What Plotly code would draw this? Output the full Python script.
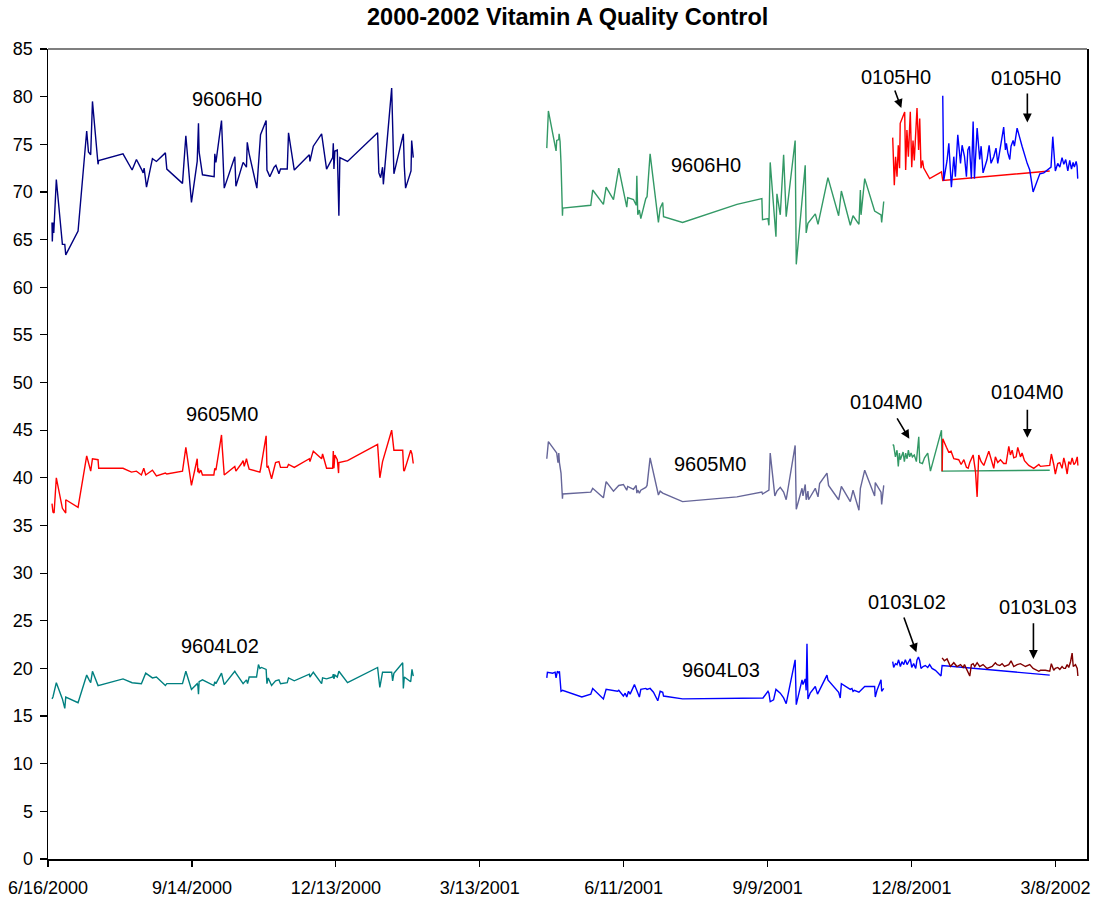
import pandas as pd
import plotly.graph_objects as go

BASE = pd.Timestamp("2000-06-16")

# ---- data: day offsets from 6/16/2000 and assay values ----
h96_a_days = [2.5,2.7,3.1,3.6,5.2,9.0,10.5,11.1,18.8,24.2,
              25.3,26.7,27.8,31.3,31.7,46.9,52.6,55.3,58.4,59.5,
              60.1,61.6,65.3,67.8,73.4,74.3,84.1,86.2,89.7,93.3,
              94.1,94.5,96.6,103.9,104.3,105.0,108.5,110.2,116.8,117.5,
              122.0,124.1,124.6,125.8,130.6,132.9,136.4,136.9,137.7,138.7,
              141.4,142.5,144.4,145.4,149.6,150.4,154.0,163.4,163.8,165.9,
              171.1,174.2,178.0,178.4,178.8,179.4,180.9,181.9,182.5,187.3,
              206.1,206.9,208.0,209.2,209.7,214.9,216.3,222.2,222.8,223.6,
              227.0,227.4,228.4]
h96_a_vals = [66.8,64.8,66.8,65.7,71.3,64.5,64.5,63.4,65.9,76.4,
              74.2,73.9,79.5,72.9,73.3,74.0,72.3,73.4,72.4,72.0,
              72.5,70.5,73.5,73.2,74.1,72.4,70.9,75.9,68.9,73.2,
              77.2,74.2,71.8,71.6,74.0,73.1,77.5,70.4,73.7,70.6,
              73.1,72.6,75.2,74.0,70.4,76.0,77.5,72.3,72.0,71.6,
              72.6,72.8,71.9,72.4,72.4,76.2,72.3,73.9,73.2,74.8,
              76.1,72.4,73.6,75.1,72.4,74.3,74.4,67.5,73.6,73.2,
              76.2,72.0,71.5,72.6,70.8,80.9,71.9,76.1,72.7,70.4,
              72.2,75.4,73.6]

m95_a_days = [2.5,3.1,3.8,5.2,9.0,10.5,11.1,11.1,18.8,24.2,25.7,26.7,27.8,31.3,31.7,46.9,52.2,55.3,58.4,59.9,
              61.1,65.3,67.8,73.4,74.3,84.1,86.2,89.7,93.3,93.7,94.1,94.5,95.6,96.6,103.7,104.3,105.0,108.5,108.9,110.2,
              116.8,117.5,121.0,122.0,122.7,124.1,124.8,125.8,132.5,132.9,136.4,136.9,137.7,139.8,142.3,144.4,145.4,149.6,150.4,154.0,
              163.4,163.8,165.9,171.1,171.7,174.2,178.0,178.4,178.8,179.4,180.9,181.7,181.9,187.3,206.1,207.5,209.2,214.9,216.3,221.8,
              222.4,222.8,226.8,227.6,228.4]
m95_a_vals = [37.3,36.4,36.3,40.0,36.8,36.4,36.3,37.7,36.9,42.3,41.3,40.7,42.0,41.9,41.0,41.0,40.6,40.7,40.3,41.0,
              40.3,40.8,40.2,40.5,40.4,40.7,43.2,39.2,42.0,40.6,41.0,40.5,40.8,40.3,40.3,41.0,40.8,44.5,43.3,40.3,
              41.2,40.7,41.5,41.8,41.2,42.0,41.5,40.9,40.6,40.9,44.4,41.1,41.2,39.9,41.6,41.7,41.1,41.1,41.4,41.1,
              42.0,41.7,42.8,42.0,42.5,41.0,41.0,42.8,41.0,42.4,41.9,40.5,41.6,41.8,43.5,40.0,41.7,45.0,42.9,42.9,
              40.8,40.7,42.9,42.5,41.5]

l02_a_days = [2.5,3.1,5.2,9.0,10.5,11.1,18.8,24.2,25.7,26.7,27.8,31.3,46.9,52.6,58.4,59.9,61.1,65.3,67.8,73.4,
              74.3,84.1,86.2,89.7,93.3,93.7,94.1,94.5,96.6,103.7,104.3,105.0,108.5,110.2,116.8,117.5,122.0,124.1,124.8,125.8,
              130.4,131.6,132.5,133.5,136.4,136.9,137.7,139.8,142.3,144.4,145.4,149.6,150.4,154.0,163.4,163.8,165.9,171.1,171.7,174.2,
              178.0,178.4,178.8,179.4,180.9,181.9,187.3,206.1,207.5,209.2,214.9,215.5,216.3,221.8,222.2,222.8,226.8,227.6,228.4]
l02_a_vals = [16.8,17.0,18.5,16.8,15.8,17.0,16.4,19.3,18.8,18.5,19.7,18.2,18.9,18.5,18.4,19.1,19.5,19.0,19.1,18.2,
              18.4,18.4,19.7,17.8,18.4,18.2,17.3,18.6,18.8,18.2,18.6,18.4,19.5,18.3,19.7,19.5,18.4,18.8,18.4,19.1,
              19.1,20.4,20.0,20.1,19.9,18.4,19.0,18.2,18.7,18.8,18.4,18.5,19.0,18.7,19.4,19.1,19.6,18.4,19.0,18.9,
              19.1,19.4,18.9,19.3,19.1,19.7,18.5,20.1,18.0,19.6,19.6,18.7,19.5,20.6,17.9,19.1,18.6,19.9,19.2]

h96_b_days = [311.9,312.3,312.9,317.7,318.1,319.4,319.6,320.2,320.8,321.7,321.9,339.4,340.6,347.3,349.0,353.6,356.9,361.9,362.5,366.1,
              367.8,368.2,368.8,369.8,370.7,373.8,374.6,376.5,381.7,382.8,384.4,384.9,396.8,430.8,446.4,446.8,450.2,450.8,451.6,455.2,
              455.8,457.9,460.0,461.6,467.2,467.9,473.5,474.1,475.2,479.8,481.5,487.7,494.4,496.1,501.7,503.4,507.1,508.0,508.4,510.7,
              516.9,520.9,521.3,522.6]
h96_b_vals = [74.6,76.1,78.5,74.3,75.4,75.5,76.1,75.3,73.0,67.5,68.3,68.6,70.2,68.7,70.5,69.2,72.5,68.4,69.4,69.2,
              68.6,71.7,67.6,68.1,67.2,69.3,69.5,74.0,66.8,68.3,68.9,67.4,66.8,68.7,69.3,67.1,67.2,66.5,73.1,65.3,
              69.8,67.6,73.9,67.4,75.4,62.4,72.8,65.7,66.7,67.7,66.6,71.5,67.5,70.1,66.5,67.5,66.6,70.2,67.6,71.4,
              68.0,67.6,66.8,69.0]

m95_b_days = [311.9,312.3,312.9,317.7,318.1,318.9,319.4,319.8,320.8,321.7,321.9,339.4,340.6,347.3,349.0,353.6,356.9,359.8,361.9,362.5,
              366.1,367.8,368.2,368.8,369.8,370.7,373.8,374.6,376.5,381.7,382.8,384.4,396.8,430.8,446.4,446.8,450.2,450.8,451.6,454.5,
              455.8,457.9,460.0,461.6,467.2,467.9,471.5,472.1,473.5,474.1,475.2,475.6,479.8,481.5,482.5,487.1,488.1,494.4,496.1,501.7,
              503.4,507.1,508.0,510.7,516.9,517.3,520.9,521.3,522.6]
m95_b_vals = [42.0,42.9,43.8,42.7,42.6,41.6,42.6,41.6,40.5,37.8,38.3,38.5,38.9,37.9,39.6,38.6,39.2,39.3,38.7,39.1,
              38.8,39.2,38.4,38.7,38.4,38.7,39.0,39.2,42.1,38.2,38.6,38.4,37.5,38.0,38.5,38.3,38.6,38.7,42.6,38.1,
              38.6,39.0,38.5,37.7,43.4,36.7,38.9,38.1,39.3,37.7,38.6,37.7,38.9,38.0,39.4,40.5,39.2,37.7,39.1,37.5,
              38.7,36.6,38.9,40.8,38.1,39.5,38.5,37.2,39.2]

l03_b_days = [311.9,312.3,315.6,317.1,317.7,318.5,319.4,319.8,320.8,321.7,333.8,339.4,340.6,347.3,349.0,353.6,356.1,356.9,359.8,360.9,
              361.9,363.0,364.0,366.7,369.8,370.7,373.8,374.6,376.5,378.6,381.3,382.8,384.4,384.9,396.8,447.1,450.2,450.8,451.6,453.7,
              455.2,457.9,460.0,461.6,467.2,467.9,471.5,472.1,473.5,474.1,474.6,475.2,476.6,479.8,481.2,487.1,487.7,494.4,495.4,496.1,
              501.7,502.7,503.4,504.2,507.1,510.7,516.9,517.3,518.4,520.9,521.3,522.6]
l03_b_vals = [19.0,19.6,19.5,19.6,19.0,19.7,19.5,19.7,17.6,17.7,17.0,17.3,17.9,16.8,17.8,17.7,17.6,17.7,17.1,17.4,
              17.0,17.6,17.3,18.3,17.0,17.8,17.9,17.8,17.9,17.5,16.6,17.6,17.5,17.1,16.8,16.9,17.6,17.4,16.5,16.7,
              17.8,17.4,16.9,16.3,20.9,16.2,18.8,18.3,18.9,17.7,22.6,16.8,17.4,18.1,17.3,19.3,18.8,17.5,16.9,18.4,
              17.8,17.9,17.6,17.7,17.5,18.1,18.1,17.0,17.7,18.8,17.6,17.9]

h05_red_days = [528.2,529.2,530.0,530.9,531.7,532.5,532.9,535.7,536.3,537.1,538.0,539.2,540.1,540.9,541.7,543.4,544.4,545.1,545.9,546.9,
                547.6,551.3,558.7,559.5,626.4]
h05_red_vals = [75.7,70.7,73.7,71.6,74.9,72.5,77.2,78.4,72.3,76.5,73.7,78.4,72.6,75.4,73.3,78.8,74.4,77.7,72.5,73.3,
                72.5,71.4,72.1,71.2,72.2]

h05_blue_days = [559.5,560.1,562.2,563.3,564.9,566.4,567.4,568.9,570.6,571.6,573.1,574.3,575.2,576.2,577.4,578.5,579.3,581.0,582.6,583.5,
                 584.7,587.2,588.5,589.7,591.4,592.8,593.9,594.9,597.6,598.7,599.3,600.2,601.4,602.2,603.5,604.3,606.0,609.1,610.2,612.3,
                 613.9,616.0,620.2,622.7,627.2,628.3,629.9,631.4,632.7,634.1,635.2,636.4,637.7,638.9,640.0,641.0,641.8,642.9,643.5,643.9]
h05_blue_vals = [80.1,71.2,73.3,75.1,70.5,73.7,71.6,76.0,73.0,74.9,73.7,71.6,74.4,74.8,71.4,77.4,71.4,76.7,73.4,74.8,
                 72.0,73.4,74.9,73.0,73.7,74.6,73.0,74.1,76.8,74.4,75.1,74.1,73.4,74.8,75.4,74.8,76.7,74.8,74.1,73.0,
                 72.3,70.0,71.9,72.0,72.6,75.8,72.2,73.0,72.6,73.6,72.9,73.4,72.2,73.3,72.4,73.1,72.6,73.2,72.7,71.4]

m04_green_days = [528.2,528.8,529.9,530.9,531.7,532.4,533.0,533.8,534.7,535.5,536.3,537.2,538.0,538.8,539.7,540.5,541.7,543.0,543.9,544.5,
                  545.1,546.8,548.1,550.1,551.8,558.7,559.1,626.4]
m04_green_vals = [43.5,43.4,42.2,42.9,41.2,42.6,41.9,42.4,42.7,41.7,42.6,42.0,42.9,42.2,42.6,42.2,42.4,41.7,42.9,44.3,
                  41.6,41.5,42.1,42.6,40.7,45.0,40.7,40.8]

m04_red_days = [559.1,559.5,561.8,563.2,564.7,566.4,569.5,571.0,572.7,574.3,575.4,576.4,578.5,580.0,581.0,582.0,583.5,585.2,588.3,589.7,
                591.4,592.4,593.9,595.6,597.6,599.1,600.8,601.8,602.9,603.9,605.4,606.4,608.1,609.1,610.6,613.3,616.4,619.6,620.6,626.4,
                627.4,628.9,629.9,631.4,632.7,634.1,635.2,636.2,637.3,638.3,639.4,640.4,641.5,642.5,643.6,644.0]
m04_red_vals = [40.7,44.1,43.2,42.7,42.8,42.0,41.9,41.4,41.9,41.1,41.0,41.6,42.4,40.6,38.0,42.4,41.7,41.3,42.8,41.9,
                41.0,42.2,41.6,41.9,41.5,41.5,43.3,42.4,42.9,42.1,42.2,43.2,42.2,42.6,41.8,41.3,41.0,41.4,41.2,41.3,
                42.5,41.4,40.4,41.5,41.6,41.0,42.1,41.4,40.4,41.7,41.4,42.1,41.4,41.6,42.2,41.3]

l02_c_days = [528.2,528.8,529.9,530.9,531.9,533.0,534.0,535.1,536.1,537.2,538.2,539.2,540.1,541.3,542.6,543.4,544.3,545.1,545.9,547.2,
              548.6,550.1,551.3,552.8,554.9,558.4,559.1,626.4]
l02_c_vals = [20.7,20.1,20.5,20.4,20.9,20.2,20.7,20.4,20.9,20.4,20.7,21.0,20.1,20.5,20.0,20.9,21.2,20.8,20.0,20.2,
              20.3,20.1,20.4,20.0,19.8,19.2,20.3,19.3]

l03_c_days = [559.1,560.5,562.2,564.3,566.4,568.4,570.6,572.2,573.1,574.7,576.4,577.4,578.5,579.5,581.0,582.6,584.7,587.2,588.9,590.4,
              592.4,593.5,595.2,596.6,598.1,600.8,602.2,603.9,606.0,608.1,611.2,613.9,616.0,619.6,620.6,623.7,626.4,627.4,628.9,629.9,
              631.4,632.7,634.1,635.2,636.2,637.3,638.3,639.4,640.4,641.1,642.5,643.6,644.0]
l03_c_vals = [21.1,20.8,21.0,20.2,20.6,20.2,20.4,20.1,20.4,19.8,19.2,20.4,20.5,20.2,20.6,20.2,20.4,20.0,20.1,20.2,
              20.6,20.4,20.3,20.5,20.2,20.4,20.8,20.2,20.4,20.5,20.2,20.4,20.0,19.7,19.8,19.8,19.7,20.5,19.8,20.0,
              20.1,19.9,20.2,20.0,20.0,20.4,20.1,20.7,21.6,20.2,20.4,20.0,19.2]

series = [
    ("9606H0", h96_a_days, h96_a_vals, "#000080"),
    ("9605M0", m95_a_days, m95_a_vals, "#FF0000"),
    ("9604L02", l02_a_days, l02_a_vals, "#008080"),
    ("9606H0 (2)", h96_b_days, h96_b_vals, "#339966"),
    ("9605M0 (2)", m95_b_days, m95_b_vals, "#666699"),
    ("9604L03", l03_b_days, l03_b_vals, "#0000FF"),
    ("0105H0 a", h05_red_days, h05_red_vals, "#FF0000"),
    ("0105H0 b", h05_blue_days, h05_blue_vals, "#0000FF"),
    ("0104M0 a", m04_green_days, m04_green_vals, "#339966"),
    ("0104M0 b", m04_red_days, m04_red_vals, "#FF0000"),
    ("0103L02", l02_c_days, l02_c_vals, "#0000FF"),
    ("0103L03", l03_c_days, l03_c_vals, "#800000"),
]

# labels: (text, day, value)
labels = [
    ("9606H0", 111.8, 79.8), ("9606H0", 411.6, 72.8),
    ("9605M0", 108.5, 46.7), ("9605M0", 414.1, 41.5),
    ("9604L02", 107.4, 22.4), ("9604L03", 420.8, 19.8),
    ("0105H0", 530.4, 82.1), ("0105H0", 611.8, 82.0),
    ("0104M0", 524.2, 48.0), ("0104M0", 612.4, 49.0),
    ("0103L02", 537.4, 27.0), ("0103L03", 619.3, 26.4),
]
# arrows: (tail day, tail value, head day, head value)
arrows = [
    (529.2, 80.8, 533.6, 78.8), (612.4, 80.5, 612.4, 77.3),
    (530.4, 46.4, 538.6, 44.1), (612.4, 47.3, 612.4, 44.2),
    (534.9, 25.5, 543.0, 21.7), (616.2, 24.9, 616.2, 21.0),
]

tick_days = [0, 90, 180, 270, 360, 450, 540, 630]
y_ticks = list(range(0, 90, 5))


def to_date(d):
    return BASE + pd.to_timedelta(d, unit="D")


fig = go.Figure()
for name, days, vals, color in series:
    assert len(days) == len(vals), name
    fig.add_trace(go.Scatter(
        x=[to_date(d) for d in days], y=vals, mode="lines", name=name,
        line=dict(color=color, width=1.4), showlegend=False,
        hoverinfo="skip"))

annotations = []
for text, d, v in labels:
    annotations.append(dict(x=to_date(d), y=v, xref="x", yref="y", text=text,
                            showarrow=False,
                            font=dict(family="Liberation Sans, Arial", size=20, color="#000")))
for td, tv, hd, hv in arrows:
    annotations.append(dict(x=to_date(hd), y=hv, ax=to_date(td), ay=tv,
                            xref="x", yref="y", axref="x", ayref="y", text="",
                            showarrow=True, arrowhead=2, arrowsize=1.1, arrowwidth=1.6,
                            arrowcolor="#000"))
annotations.append(dict(x=0.5, y=1, xref="paper", yref="paper", yanchor="bottom",
                        yshift=17, text="<b>2000-2002 Vitamin A Quality Control</b>",
                        showarrow=False,
                        font=dict(family="Liberation Sans, Arial", size=23.5, color="#000")))

fig.update_layout(
    width=1094, height=899,
    margin=dict(l=48, r=7, t=49, b=40, autoexpand=False),
    paper_bgcolor="white", plot_bgcolor="white",
    font=dict(family="Liberation Sans, Arial", size=18, color="#000"),
    annotations=annotations,
    shapes=[dict(type="line", xref="paper", yref="paper", x0=0, x1=1, y0=1, y1=1,
                 line=dict(color="#555555", width=1.5))],
    xaxis=dict(
        type="date", automargin=False,
        range=[to_date(0), to_date(649.7)],
        tickvals=[to_date(d) for d in tick_days],
        ticktext=[f"{to_date(d).month}/{to_date(d).day}/{to_date(d).year}" for d in tick_days],
        ticks="outside", ticklen=6, tickwidth=1.2, tickcolor="#000",
        ticklabeloverflow="allow", ticklabelstandoff=6,
        showline=True, linecolor="#000", linewidth=1.5,
        showgrid=False, zeroline=False,
        tickfont=dict(size=18),
    ),
    yaxis=dict(
        automargin=False,
        range=[0, 85], tickvals=y_ticks,
        ticks="outside", ticklen=7, tickwidth=1.2, tickcolor="#000",
        ticklabelstandoff=3,
        showline=True, linecolor="#000", linewidth=1.5, mirror=True,
        showgrid=False, zeroline=False,
        tickfont=dict(size=18),
    ),
)

# remove the default page margin so the figure fills the window exactly
fig.write_html("out.html",
               config={"displayModeBar": False, "staticPlot": True},
               post_script="document.body.style.margin='0px';document.body.style.overflow='hidden';")
